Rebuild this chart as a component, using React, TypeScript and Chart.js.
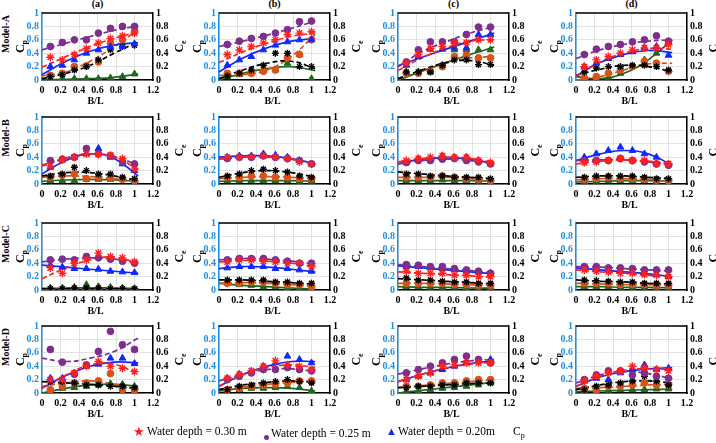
import React, { useEffect, useRef } from 'react';
import { Chart, registerables } from 'chart.js';

Chart.register(...registerables);

// Panel grid: rows are models, columns are the four cases
const ROW_LABELS = ['Model-A', 'Model-B', 'Model-C', 'Model-D'];
const COL_LABELS = ['(a)', '(b)', '(c)', '(d)'];

// Measured B/L positions and positions of the fitted curves
const BL_POINTS = [0.09, 0.22, 0.35, 0.48, 0.61, 0.74, 0.87, 1.0];
const BL_FIT = [0, 0.26, 0.52, 0.78, 1.04];
const X_TICKS = [0, 0.2, 0.4, 0.6, 0.8, 1, 1.2];
const X_TICK_LABELS = ['0', '0.2', '0.4', '0.6', '0.8', '1', '1.2'];
const Y_TICKS = [0, 0.2, 0.4, 0.6, 0.8, 1];
const Y_TICK_LABELS = ['0', '0.2', '0.4', '0.6', '0.8', '1'];

// Cp, water depth 0.30 m (one row per panel: A(a..d), B(a..d), C(a..d), D(a..d))
const cp030 = [
  [0.34, 0.30, 0.38, 0.47, 0.55, 0.62, 0.66, 0.70],
  [0.38, 0.45, 0.50, 0.55, 0.60, 0.68, 0.70, 0.72],
  [0.25, 0.38, 0.47, 0.50, 0.55, 0.56, 0.60, 0.60],
  [0.20, 0.30, 0.35, 0.40, 0.45, 0.48, 0.48, 0.53],
  [0.27, 0.36, 0.40, 0.45, 0.44, 0.43, 0.38, 0.22],
  [0.40, 0.40, 0.40, 0.42, 0.40, 0.38, 0.33, 0.30],
  [0.35, 0.38, 0.40, 0.42, 0.40, 0.40, 0.35, 0.32],
  [0.32, 0.33, 0.35, 0.38, 0.35, 0.35, 0.30, 0.30],
  [0.33, 0.25, 0.40, 0.45, 0.55, 0.50, 0.48, 0.42],
  [0.42, 0.45, 0.45, 0.43, 0.42, 0.40, 0.40, 0.35],
  [0.28, 0.25, 0.25, 0.25, 0.22, 0.22, 0.20, 0.20],
  [0.30, 0.28, 0.27, 0.25, 0.25, 0.23, 0.22, 0.20],
  [0.20, 0.20, 0.30, 0.40, 0.47, 0.40, 0.37, 0.32],
  [0.22, 0.28, 0.33, 0.40, 0.48, 0.42, 0.40, 0.35],
  [0.20, 0.25, 0.30, 0.40, 0.42, 0.45, 0.45, 0.45],
  [0.18, 0.25, 0.30, 0.33, 0.40, 0.38, 0.35, 0.33],
];
const cp030Fit = [
  [0.19, 0.35, 0.50, 0.62, 0.72],
  [0.26, 0.42, 0.55, 0.65, 0.70],
  [0.14, 0.33, 0.48, 0.58, 0.60],
  [0.06, 0.27, 0.40, 0.47, 0.46],
  [0.28, 0.39, 0.45, 0.40, 0.22],
  [0.38, 0.41, 0.41, 0.37, 0.30],
  [0.33, 0.38, 0.40, 0.38, 0.32],
  [0.30, 0.34, 0.36, 0.34, 0.30],
  [0.17, 0.33, 0.45, 0.49, 0.40],
  [0.42, 0.44, 0.43, 0.40, 0.35],
  [0.27, 0.25, 0.23, 0.21, 0.19],
  [0.30, 0.27, 0.25, 0.22, 0.20],
  [0.08, 0.27, 0.42, 0.43, 0.28],
  [0.10, 0.27, 0.38, 0.42, 0.38],
  [0.17, 0.28, 0.37, 0.43, 0.46],
  [0.10, 0.25, 0.34, 0.36, 0.35],
];

// Cp, water depth 0.25 m
const cp025 = [
  [0.50, 0.56, 0.60, 0.60, 0.70, 0.77, 0.80, 0.80],
  [0.53, 0.58, 0.62, 0.65, 0.70, 0.75, 0.87, 0.88],
  [0.27, 0.45, 0.57, 0.57, 0.57, 0.68, 0.79, 0.79],
  [0.38, 0.46, 0.50, 0.53, 0.57, 0.60, 0.66, 0.58],
  [0.35, 0.37, 0.40, 0.53, 0.45, 0.42, 0.33, 0.30],
  [0.38, 0.40, 0.40, 0.42, 0.40, 0.38, 0.35, 0.30],
  [0.32, 0.35, 0.35, 0.37, 0.38, 0.35, 0.33, 0.30],
  [0.35, 0.35, 0.35, 0.38, 0.35, 0.33, 0.30, 0.28],
  [0.45, 0.46, 0.45, 0.50, 0.48, 0.46, 0.43, 0.40],
  [0.45, 0.47, 0.47, 0.47, 0.45, 0.43, 0.40, 0.40],
  [0.38, 0.37, 0.35, 0.35, 0.32, 0.30, 0.28, 0.25],
  [0.35, 0.35, 0.33, 0.33, 0.32, 0.30, 0.30, 0.30],
  [0.65, 0.46, 0.28, 0.42, 0.62, 0.92, 0.72, 0.65],
  [0.20, 0.25, 0.30, 0.35, 0.35, 0.38, 0.35, 0.33],
  [0.30, 0.35, 0.40, 0.45, 0.50, 0.55, 0.50, 0.45],
  [0.20, 0.27, 0.33, 0.33, 0.27, 0.30, 0.25, 0.22],
];
const cp025Fit = [
  [0.45, 0.55, 0.65, 0.74, 0.81],
  [0.50, 0.58, 0.67, 0.77, 0.88],
  [0.20, 0.42, 0.57, 0.70, 0.80],
  [0.32, 0.45, 0.53, 0.58, 0.60],
  [0.27, 0.38, 0.45, 0.41, 0.28],
  [0.37, 0.40, 0.40, 0.37, 0.30],
  [0.30, 0.35, 0.37, 0.35, 0.30],
  [0.35, 0.36, 0.36, 0.33, 0.28],
  [0.42, 0.46, 0.48, 0.46, 0.40],
  [0.45, 0.47, 0.46, 0.43, 0.39],
  [0.38, 0.35, 0.32, 0.29, 0.25],
  [0.35, 0.34, 0.32, 0.30, 0.28],
  [0.52, 0.47, 0.52, 0.62, 0.82],
  [0.18, 0.28, 0.35, 0.36, 0.32],
  [0.28, 0.36, 0.43, 0.48, 0.50],
  [0.15, 0.27, 0.32, 0.29, 0.21],
];

// Cp, water depth 0.20 m
const cp020 = [
  [0.20, 0.22, 0.30, 0.40, 0.45, 0.50, 0.50, 0.54],
  [0.22, 0.30, 0.35, 0.45, 0.52, 0.57, 0.60, 0.60],
  [0.22, 0.35, 0.46, 0.46, 0.48, 0.48, 0.68, 0.68],
  [0.20, 0.25, 0.32, 0.38, 0.42, 0.48, 0.50, 0.37],
  [0.25, 0.37, 0.40, 0.45, 0.53, 0.40, 0.30, 0.20],
  [0.40, 0.42, 0.42, 0.45, 0.43, 0.40, 0.35, 0.30],
  [0.32, 0.38, 0.38, 0.42, 0.40, 0.40, 0.35, 0.30],
  [0.40, 0.45, 0.50, 0.55, 0.50, 0.45, 0.40, 0.30],
  [0.37, 0.34, 0.32, 0.32, 0.31, 0.28, 0.27, 0.26],
  [0.33, 0.35, 0.35, 0.35, 0.32, 0.32, 0.30, 0.28],
  [0.35, 0.35, 0.33, 0.32, 0.30, 0.28, 0.27, 0.25],
  [0.33, 0.32, 0.30, 0.28, 0.27, 0.25, 0.23, 0.20],
  [0.22, 0.22, 0.30, 0.40, 0.43, 0.52, 0.52, 0.44],
  [0.22, 0.28, 0.32, 0.40, 0.45, 0.55, 0.50, 0.45],
  [0.20, 0.25, 0.30, 0.35, 0.40, 0.45, 0.48, 0.50],
  [0.18, 0.22, 0.20, 0.30, 0.35, 0.42, 0.35, 0.37],
];
const cp020Fit = [
  [0.08, 0.28, 0.43, 0.52, 0.56],
  [0.12, 0.33, 0.48, 0.58, 0.62],
  [0.21, 0.34, 0.46, 0.58, 0.70],
  [0.06, 0.26, 0.38, 0.44, 0.41],
  [0.15, 0.35, 0.45, 0.38, 0.12],
  [0.40, 0.42, 0.42, 0.38, 0.30],
  [0.30, 0.37, 0.39, 0.37, 0.30],
  [0.35, 0.45, 0.50, 0.45, 0.28],
  [0.37, 0.34, 0.31, 0.28, 0.25],
  [0.32, 0.35, 0.34, 0.31, 0.27],
  [0.36, 0.33, 0.30, 0.27, 0.24],
  [0.33, 0.30, 0.27, 0.24, 0.20],
  [0.07, 0.26, 0.40, 0.46, 0.45],
  [0.10, 0.28, 0.40, 0.47, 0.47],
  [0.17, 0.28, 0.37, 0.44, 0.48],
  [0.10, 0.24, 0.32, 0.36, 0.38],
];

// Ce, water depth 0.30 m
const ce030 = [
  [0.05, 0.08, 0.15, 0.20, 0.30, 0.45, 0.50, 0.52],
  [0.06, 0.10, 0.15, 0.22, 0.40, 0.40, 0.20, 0.20],
  [0.12, 0.12, 0.12, 0.22, 0.30, 0.30, 0.23, 0.23],
  [0.12, 0.18, 0.20, 0.20, 0.22, 0.22, 0.20, 0.15],
  [0.12, 0.15, 0.25, 0.20, 0.15, 0.15, 0.10, 0.08],
  [0.12, 0.15, 0.20, 0.22, 0.20, 0.18, 0.12, 0.10],
  [0.15, 0.15, 0.12, 0.12, 0.10, 0.10, 0.10, 0.08],
  [0.10, 0.12, 0.12, 0.12, 0.12, 0.10, 0.08, 0.08],
  [0.02, 0.02, 0.03, 0.03, 0.03, 0.02, 0.02, 0.02],
  [0.15, 0.15, 0.15, 0.15, 0.12, 0.12, 0.10, 0.10],
  [0.18, 0.15, 0.15, 0.13, 0.12, 0.12, 0.10, 0.10],
  [0.15, 0.14, 0.13, 0.12, 0.12, 0.10, 0.10, 0.10],
  [0.17, 0.17, 0.15, 0.12, 0.12, 0.10, 0.10, 0.08],
  [0.05, 0.10, 0.12, 0.15, 0.17, 0.20, 0.17, 0.15],
  [0.08, 0.10, 0.10, 0.12, 0.12, 0.15, 0.15, 0.15],
  [0.05, 0.10, 0.12, 0.15, 0.18, 0.25, 0.18, 0.12],
];
const ce030Fit = [
  [0.02, 0.10, 0.22, 0.40, 0.57],
  [0.02, 0.15, 0.25, 0.28, 0.17],
  [0.02, 0.15, 0.26, 0.29, 0.22],
  [0.07, 0.16, 0.22, 0.20, 0.12],
  [0.12, 0.17, 0.17, 0.12, 0.05],
  [0.10, 0.17, 0.20, 0.17, 0.10],
  [0.18, 0.15, 0.12, 0.10, 0.08],
  [0.10, 0.12, 0.12, 0.10, 0.08],
  [0.02, 0.02, 0.02, 0.02, 0.02],
  [0.15, 0.15, 0.13, 0.11, 0.08],
  [0.17, 0.15, 0.13, 0.11, 0.09],
  [0.15, 0.13, 0.12, 0.10, 0.09],
  [0.17, 0.15, 0.13, 0.10, 0.07],
  [0.05, 0.12, 0.16, 0.18, 0.16],
  [0.08, 0.10, 0.12, 0.14, 0.15],
  [0.05, 0.12, 0.17, 0.18, 0.15],
];

// Ce, water depth 0.25 m
const ce025 = [
  [0.07, 0.10, 0.20, 0.21, 0.27, 0.55, 0.60, 0.72],
  [0.10, 0.10, 0.10, 0.13, 0.15, 0.33, 0.38, 0.60],
  [0.10, 0.10, 0.13, 0.20, 0.35, 0.37, 0.33, 0.33],
  [0.03, 0.05, 0.10, 0.15, 0.20, 0.28, 0.25, 0.13],
  [0.10, 0.13, 0.15, 0.08, 0.10, 0.09, 0.07, 0.05],
  [0.10, 0.10, 0.12, 0.12, 0.10, 0.10, 0.08, 0.08],
  [0.10, 0.10, 0.10, 0.12, 0.10, 0.08, 0.07, 0.05],
  [0.07, 0.08, 0.10, 0.08, 0.08, 0.07, 0.06, 0.05],
  [0.01, 0.01, 0.01, 0.01, 0.01, 0.01, 0.01, 0.01],
  [0.10, 0.10, 0.12, 0.12, 0.10, 0.08, 0.08, 0.05],
  [0.10, 0.10, 0.10, 0.10, 0.08, 0.08, 0.07, 0.07],
  [0.10, 0.10, 0.10, 0.08, 0.08, 0.08, 0.07, 0.07],
  [0.05, 0.10, 0.15, 0.15, 0.18, 0.29, 0.05, 0.04],
  [0.05, 0.07, 0.10, 0.12, 0.13, 0.15, 0.18, 0.18],
  [0.10, 0.10, 0.12, 0.15, 0.15, 0.18, 0.20, 0.20],
  [0.07, 0.05, 0.10, 0.10, 0.12, 0.15, 0.12, 0.12],
];
const ce025Fit = [
  [0.06, 0.12, 0.28, 0.50, 0.75],
  [0.07, 0.08, 0.15, 0.35, 0.68],
  [0.02, 0.14, 0.25, 0.33, 0.35],
  [0.00, 0.05, 0.15, 0.24, 0.25],
  [0.10, 0.12, 0.11, 0.08, 0.04],
  [0.08, 0.10, 0.11, 0.10, 0.08],
  [0.10, 0.10, 0.10, 0.08, 0.05],
  [0.06, 0.08, 0.08, 0.07, 0.05],
  [0.01, 0.01, 0.01, 0.01, 0.01],
  [0.10, 0.11, 0.10, 0.08, 0.05],
  [0.10, 0.10, 0.09, 0.08, 0.07],
  [0.10, 0.09, 0.08, 0.08, 0.07],
  [0.10, 0.15, 0.18, 0.13, 0.05],
  [0.05, 0.09, 0.13, 0.16, 0.18],
  [0.08, 0.11, 0.14, 0.17, 0.20],
  [0.07, 0.08, 0.10, 0.12, 0.13],
];

// Ce, water depth 0.20 m
const ce020 = [
  [0.02, 0.02, 0.02, 0.02, 0.02, 0.03, 0.05, 0.09],
  [0.05, 0.08, 0.12, 0.15, 0.15, 0.25, 0.38, 0.02],
  [0.12, 0.12, 0.12, 0.22, 0.45, 0.45, 0.45, 0.45],
  [0.00, 0.02, 0.04, 0.10, 0.20, 0.30, 0.40, 0.56],
  [0.05, 0.05, 0.05, 0.07, 0.07, 0.07, 0.07, 0.05],
  [0.05, 0.05, 0.05, 0.05, 0.05, 0.05, 0.04, 0.04],
  [0.05, 0.05, 0.05, 0.06, 0.05, 0.05, 0.04, 0.04],
  [0.03, 0.04, 0.05, 0.05, 0.05, 0.05, 0.04, 0.04],
  [0.03, 0.03, 0.04, 0.08, 0.05, 0.04, 0.03, 0.02],
  [0.10, 0.08, 0.07, 0.05, 0.05, 0.03, 0.02, 0.02],
  [0.05, 0.05, 0.04, 0.04, 0.04, 0.03, 0.03, 0.03],
  [0.05, 0.05, 0.05, 0.04, 0.04, 0.04, 0.03, 0.03],
  [0.03, 0.07, 0.08, 0.10, 0.12, 0.14, 0.13, 0.10],
  [0.05, 0.05, 0.07, 0.07, 0.08, 0.10, 0.08, 0.03],
  [0.02, 0.03, 0.05, 0.07, 0.08, 0.10, 0.12, 0.15],
  [0.02, 0.03, 0.04, 0.05, 0.05, 0.05, 0.06, 0.06],
];
const ce020Fit = [
  [0.00, 0.01, 0.02, 0.04, 0.09],
  [0.00, 0.10, 0.17, 0.20, 0.14],
  [0.00, 0.13, 0.26, 0.38, 0.49],
  [0.05, 0.02, 0.10, 0.30, 0.60],
  [0.04, 0.06, 0.07, 0.06, 0.04],
  [0.04, 0.05, 0.05, 0.05, 0.04],
  [0.05, 0.05, 0.05, 0.05, 0.04],
  [0.03, 0.04, 0.05, 0.05, 0.04],
  [0.02, 0.03, 0.03, 0.03, 0.02],
  [0.10, 0.07, 0.05, 0.03, 0.01],
  [0.05, 0.04, 0.04, 0.03, 0.03],
  [0.05, 0.05, 0.04, 0.04, 0.03],
  [0.00, 0.07, 0.12, 0.13, 0.10],
  [0.03, 0.07, 0.08, 0.07, 0.03],
  [0.00, 0.04, 0.08, 0.12, 0.16],
  [0.02, 0.03, 0.04, 0.05, 0.06],
];

const AXIS_BLUE = '#1f8fe0';
const FONT = "'Liberation Serif', 'Times New Roman', serif";

Chart.defaults.font.family = FONT;
Chart.defaults.font.size = 10;
Chart.defaults.font.weight = 'bold';

type Series = {
  pts: number[][];
  fit: number[][];
  color: string;
  marker: string;
  radius: number;
  dash: number[];
  axis: string;
};

const SERIES: Series[] = [
  { pts: cp030, fit: cp030Fit, color: '#ff2020', marker: 'star', radius: 4, dash: [5, 3], axis: 'y' },
  { pts: cp025, fit: cp025Fit, color: '#7e2f8e', marker: 'circle', radius: 3.4, dash: [5, 3], axis: 'y' },
  { pts: cp020, fit: cp020Fit, color: '#1028ff', marker: 'triangle', radius: 3.9, dash: [], axis: 'y' },
  { pts: ce030, fit: ce030Fit, color: '#000000', marker: 'star', radius: 3.5, dash: [5, 3], axis: 'y2' },
  { pts: ce025, fit: ce025Fit, color: '#d95319', marker: 'circle', radius: 3.4, dash: [5, 3], axis: 'y2' },
  { pts: ce020, fit: ce020Fit, color: '#1f661f', marker: 'triangle', radius: 3.9, dash: [], axis: 'y2' },
];

const PLOT_LEFT = [42, 219, 398, 576];
const PLOT_TOP = [12, 116, 222, 325];
const PLOT_W = 111;
const PLOT_H = 68;
const PAD_L = 40;
const PAD_R = 38;
const PAD_T = 8;
const PAD_B = 30;

function drawRotatedSub(ctx: CanvasRenderingContext2D, x: number, y: number, sub: string) {
  ctx.save();
  ctx.translate(x, y);
  ctx.rotate(-Math.PI / 2);
  ctx.font = `bold 12px ${FONT}`;
  const wC = ctx.measureText('C').width;
  ctx.font = `bold 8px ${FONT}`;
  const wS = ctx.measureText(sub).width;
  const start = -(wC + wS) / 2;
  ctx.textBaseline = 'middle';
  ctx.textAlign = 'left';
  ctx.font = `bold 12px ${FONT}`;
  ctx.fillText('C', start, 0);
  ctx.font = `bold 8px ${FONT}`;
  ctx.fillText(sub, start + wC, 4);
  ctx.restore();
}

const panelDecor = {
  id: 'panelDecor',
  afterDraw(chart: any) {
    const { ctx, chartArea: a } = chart;
    ctx.save();
    ctx.strokeStyle = '#000';
    ctx.lineWidth = 1.5;
    ctx.beginPath();
    ctx.moveTo(a.left, a.top);
    ctx.lineTo(a.right, a.top);
    ctx.stroke();
    ctx.fillStyle = '#000';
    const cy = (a.top + a.bottom) / 2;
    drawRotatedSub(ctx, a.left - 21, cy, 'p');
    drawRotatedSub(ctx, a.right + 27, cy, 'e');
    ctx.font = `bold 10px ${FONT}`;
    ctx.textAlign = 'center';
    ctx.textBaseline = 'middle';
    ctx.fillText('B/L', (a.left + a.right) / 2 - 2, a.bottom + 21);
    ctx.restore();
  },
};

function Panel({ index }: { index: number }) {
  const ref = useRef<HTMLCanvasElement | null>(null);
  const row = Math.floor(index / 4);
  const col = index % 4;
  const width = PAD_L + PLOT_W + PAD_R;
  const height = PAD_T + PLOT_H + PAD_B;

  useEffect(() => {
    if (!ref.current) return;
    const datasets: any[] = [];
    SERIES.forEach((s) => {
      datasets.push({
        data: BL_POINTS.map((x, i) => ({ x, y: s.pts[index][i] })),
        yAxisID: s.axis,
        pointStyle: s.marker,
        pointRadius: s.radius,
        pointBorderWidth: s.marker === 'star' ? 1.4 : 1,
        backgroundColor: s.color,
        borderColor: s.color,
        showLine: false,
      });
    });
    SERIES.forEach((s) => {
      datasets.push({
        data: BL_FIT.map((x, i) => ({ x, y: s.fit[index][i] })),
        yAxisID: s.axis,
        showLine: true,
        pointRadius: 0,
        borderColor: s.color,
        borderWidth: 1.7,
        borderDash: s.dash,
        tension: 0.45,
        fill: false,
      });
    });

    const tickFont = { family: FONT, size: 10, weight: 'bold' as const };
    const yScale = (position: string, color: string, grid: boolean) => ({
      type: 'linear',
      position,
      min: 0,
      max: 1,
      afterBuildTicks: (s: any) => {
        s.ticks = Y_TICKS.map((v) => ({ value: v }));
      },
      afterFit: (s: any) => {
        s.width = position === 'left' ? PAD_L : PAD_R;
      },
      ticks: {
        color,
        font: tickFont,
        padding: 3,
        autoSkip: false,
        callback: (_v: any, i: number) => Y_TICK_LABELS[i],
      },
      grid: { display: grid, color: '#dadada', lineWidth: 0.8, drawTicks: false },
      border: { color, width: 1.5 },
    });

    const chart = new Chart(ref.current, {
      type: 'scatter',
      data: { datasets },
      options: {
        responsive: false,
        animation: false,
        events: [],
        layout: { padding: { top: PAD_T, left: 0, right: 0, bottom: 0 } },
        plugins: { legend: { display: false }, tooltip: { enabled: false } },
        scales: {
          x: {
            type: 'linear',
            min: 0,
            max: 1.2,
            afterBuildTicks: (s: any) => {
              s.ticks = X_TICKS.map((v) => ({ value: v }));
            },
            afterFit: (s: any) => {
              s.height = PAD_B;
            },
            ticks: {
              color: '#000',
              font: tickFont,
              padding: 4,
              maxRotation: 0,
              autoSkip: false,
              callback: (_v: any, i: number) => X_TICK_LABELS[i],
            },
            grid: { color: '#dadada', lineWidth: 0.8, drawTicks: false },
            border: { color: '#000', width: 1.5 },
          },
          y: yScale('left', AXIS_BLUE, true),
          y2: yScale('right', '#000', false),
        } as any,
      },
      plugins: [panelDecor],
    } as any);
    return () => chart.destroy();
  }, [index]);

  return (
    <canvas
      ref={ref}
      width={width}
      height={height}
      style={{
        position: 'absolute',
        left: PLOT_LEFT[col] - PAD_L,
        top: PLOT_TOP[row] - PAD_T,
        width,
        height,
      }}
    />
  );
}

const textBase: React.CSSProperties = {
  position: 'absolute',
  fontFamily: FONT,
  color: '#000',
  whiteSpace: 'nowrap',
};

export default function App() {
  return (
    <div
      style={{
        position: 'fixed',
        left: 0,
        top: 0,
        width: 716,
        height: 443,
        background: '#fff',
        overflow: 'hidden',
      }}
    >
      {COL_LABELS.map((t, c) => (
        <div
          key={t}
          style={{
            ...textBase,
            left: PLOT_LEFT[c] + PLOT_W / 2 - 20,
            width: 40,
            top: -2,
            textAlign: 'center',
            fontSize: 10,
            fontWeight: 'bold',
          }}
        >
          {t}
        </div>
      ))}
      {ROW_LABELS.map((t, r) => (
        <div
          key={t}
          style={{
            ...textBase,
            left: 6 - 30,
            width: 60,
            top: PLOT_TOP[r] + 22 - 7,
            height: 14,
            lineHeight: '14px',
            textAlign: 'center',
            fontSize: 10,
            fontWeight: 'bold',
            transform: 'rotate(-90deg)',
          }}
        >
          {t}
        </div>
      ))}
      {Array.from({ length: 16 }, (_, i) => (
        <Panel key={i} index={i} />
      ))}
      <span style={{ ...textBase, left: 133, top: 424, fontSize: 13, color: '#ff1a1a' }}>★</span>
      <span style={{ ...textBase, left: 147, top: 425, fontSize: 11.5 }}>Water depth = 0.30 m</span>
      <span
        style={{
          position: 'absolute',
          left: 264,
          top: 435,
          width: 5,
          height: 5,
          borderRadius: '50%',
          background: '#7e2f8e',
        }}
      />
      <span style={{ ...textBase, left: 271, top: 427, fontSize: 11.5 }}>Water depth = 0.25 m</span>
      <span style={{ ...textBase, left: 386, top: 425, fontSize: 11, color: '#1028ff' }}>▲</span>
      <span style={{ ...textBase, left: 398, top: 425, fontSize: 11.5 }}>Water depth = 0.20m</span>
      <span style={{ ...textBase, left: 513, top: 425, fontSize: 11.5 }}>
        C<sub style={{ fontSize: 8 }}>p</sub>
      </span>
    </div>
  );
}
